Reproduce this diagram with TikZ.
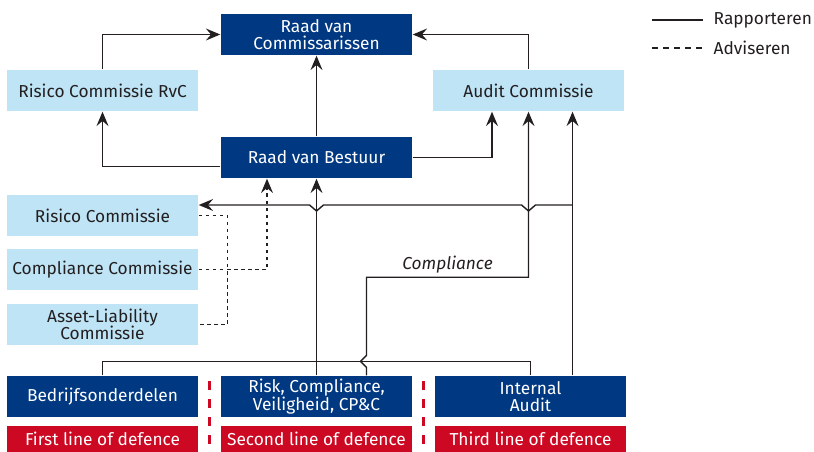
\documentclass[tikz,border=0pt]{standalone}
\usepackage{fontspec}
\setmainfont{Fira Sans}
\usetikzlibrary{calc,arrows.meta}
\definecolor{darkblue}{RGB}{0,57,130}
\definecolor{lightblue}{RGB}{190,228,246}
\definecolor{defred}{RGB}{204,8,34}
\definecolor{ink}{RGB}{35,31,32}
\tikzset{>={Stealth[length=3.6mm,width=3mm,inset=1.3mm]}}
\tikzset{
  box/.style = {
    rectangle, inner sep=0pt, align=center,
    minimum width=4.775cm, minimum height=1.025cm,
    font=\fontsize{12.3}{12.3}\selectfont
  },
  board/.style = {box, fill=darkblue, text=white},
  committee/.style = {box, fill=lightblue, text=ink},
  defence/.style = {box, fill=defred, text=white, minimum height=0.65cm},
  legend/.style = {anchor=west, inner sep=0pt, text=ink,
    font=\fontsize{12.3}{12.3}\selectfont},
  advise/.style = {dash pattern=on 2.6pt off 2.4pt},
  separator/.style = {defred, line width=2pt, dash pattern=on 6.4pt off 6.4pt}
}

\begin{document}
\begin{tikzpicture}[x=0.025cm,y=-0.025cm,line width=1pt,ink]
  \useasboundingbox (0,0) rectangle (814,452);
  % boards and committees
  \node[board] (rvc) at (316.5,34.5) {Raad van\\Commissarissen};
  \node[committee] (rcrvc) at (102.5,90.5) {Risico Commissie RvC};
  \node[committee] (audit) at (528.5,90.5) {Audit Commissie};
  \node[board] (rvb) at (316.5,157.5) {Raad van Bestuur};
  \node[committee] (rc) at (102.5,215.5) {Risico Commissie};
  \node[committee] (cc) at (102.5,269.5) {Compliance Commissie};
  \node[committee] (alc) at (102.5,324.5) {Asset-Liability\\Commissie};
  % lines of defence
  \node[board] (bedrijf) at (102.5,396.5) {Bedrijfsonderdelen};
  \node[board] (risk) at (316.5,396.5) {Risk, Compliance,\\Veiligheid, CP\&C};
  \node[board] (ia) at (530.5,396.5) {Internal\\Audit};
  \node[defence] (first) at (102.5,439) {First line of defence};
  \node[defence] (second) at (316.5,439) {Second line of defence};
  \node[defence] (third) at (530.5,439) {Third line of defence};
  \draw[separator] ($(bedrijf.north east)!0.5!(risk.north west)+(0,6)$)
    -- ($(first.south east)!0.5!(second.south west)$);
  \draw[separator] ($(risk.north east)!0.5!(ia.north west)+(0,6)$)
    -- ($(second.south east)!0.5!(third.south west)$);
  % legend
  \node[legend] (rapp) at (713,20) {Rapporteren};
  \node[legend] (adv) at (713,48) {Adviseren};
  \draw ($(rapp.west)+(-61,0)$) -- ++(51,0);
  \draw[dash pattern=on 4.3pt off 3.6pt] ($(adv.west)+(-61,0)$) -- ++(51,0);
  % reporting
  \draw[->] (rcrvc.north) |- (rvc.west);
  \draw[->] (audit.north) |- (rvc.east);
  \draw[->] (rvb.north) -- (rvc.south);
  \draw[->] ($(rvb.west)+(0,9)$) -| (rcrvc.south);
  \draw[->] (rvb.east) -| ($(audit.south)+(-36.5,0)$);
  \draw[->] (risk.north) -- (rvb.south);
  \draw[->] ($(ia.north)+(42,0)$) coordinate (iaout) -- (iaout |- audit.south);
  \draw (bedrijf.north) -- ++(0,-14) -| (ia.north);
  % compliance
  \coordinate (cmp) at ($(risk.north)+(50,0)$);
  \draw[->] (cmp) -- ++(0,-8) -- ++(-6,-6) -- ++(6,-6) -- ++(0,-78)
    coordinate (cmpturn) -| (audit.south);
  \node[font=\fontsize{12.3}{12.3}\selectfont\itshape, anchor=south, inner sep=2.5pt]
    (cmplabel) at ($(cmpturn)!0.5!(cmpturn -| audit.south)$) {Compliance};
  % internal audit to risico commissie
  \coordinate (j1) at (iaout |- 0,205);
  \coordinate (x1) at (audit.south |- j1);
  \coordinate (x2) at (rvb.south |- j1);
  \draw[->] (j1) -- ($(x1)+(7,0)$) -- ($(x1)+(0,6)$) -- ($(x1)+(-7,0)$)
    -- ($(x2)+(7,0)$) -- ($(x2)+(0,6)$) -- ($(x2)+(-7,0)$) -- (rc.east |- j1);
  % advising
  \draw[advise] (rc.east) -- ++(29,0) |- (alc.east);
  \draw[advise,->] (cc.east) -| ($(rvb.south)+(-49.5,0)$);
\end{tikzpicture}
\end{document}
